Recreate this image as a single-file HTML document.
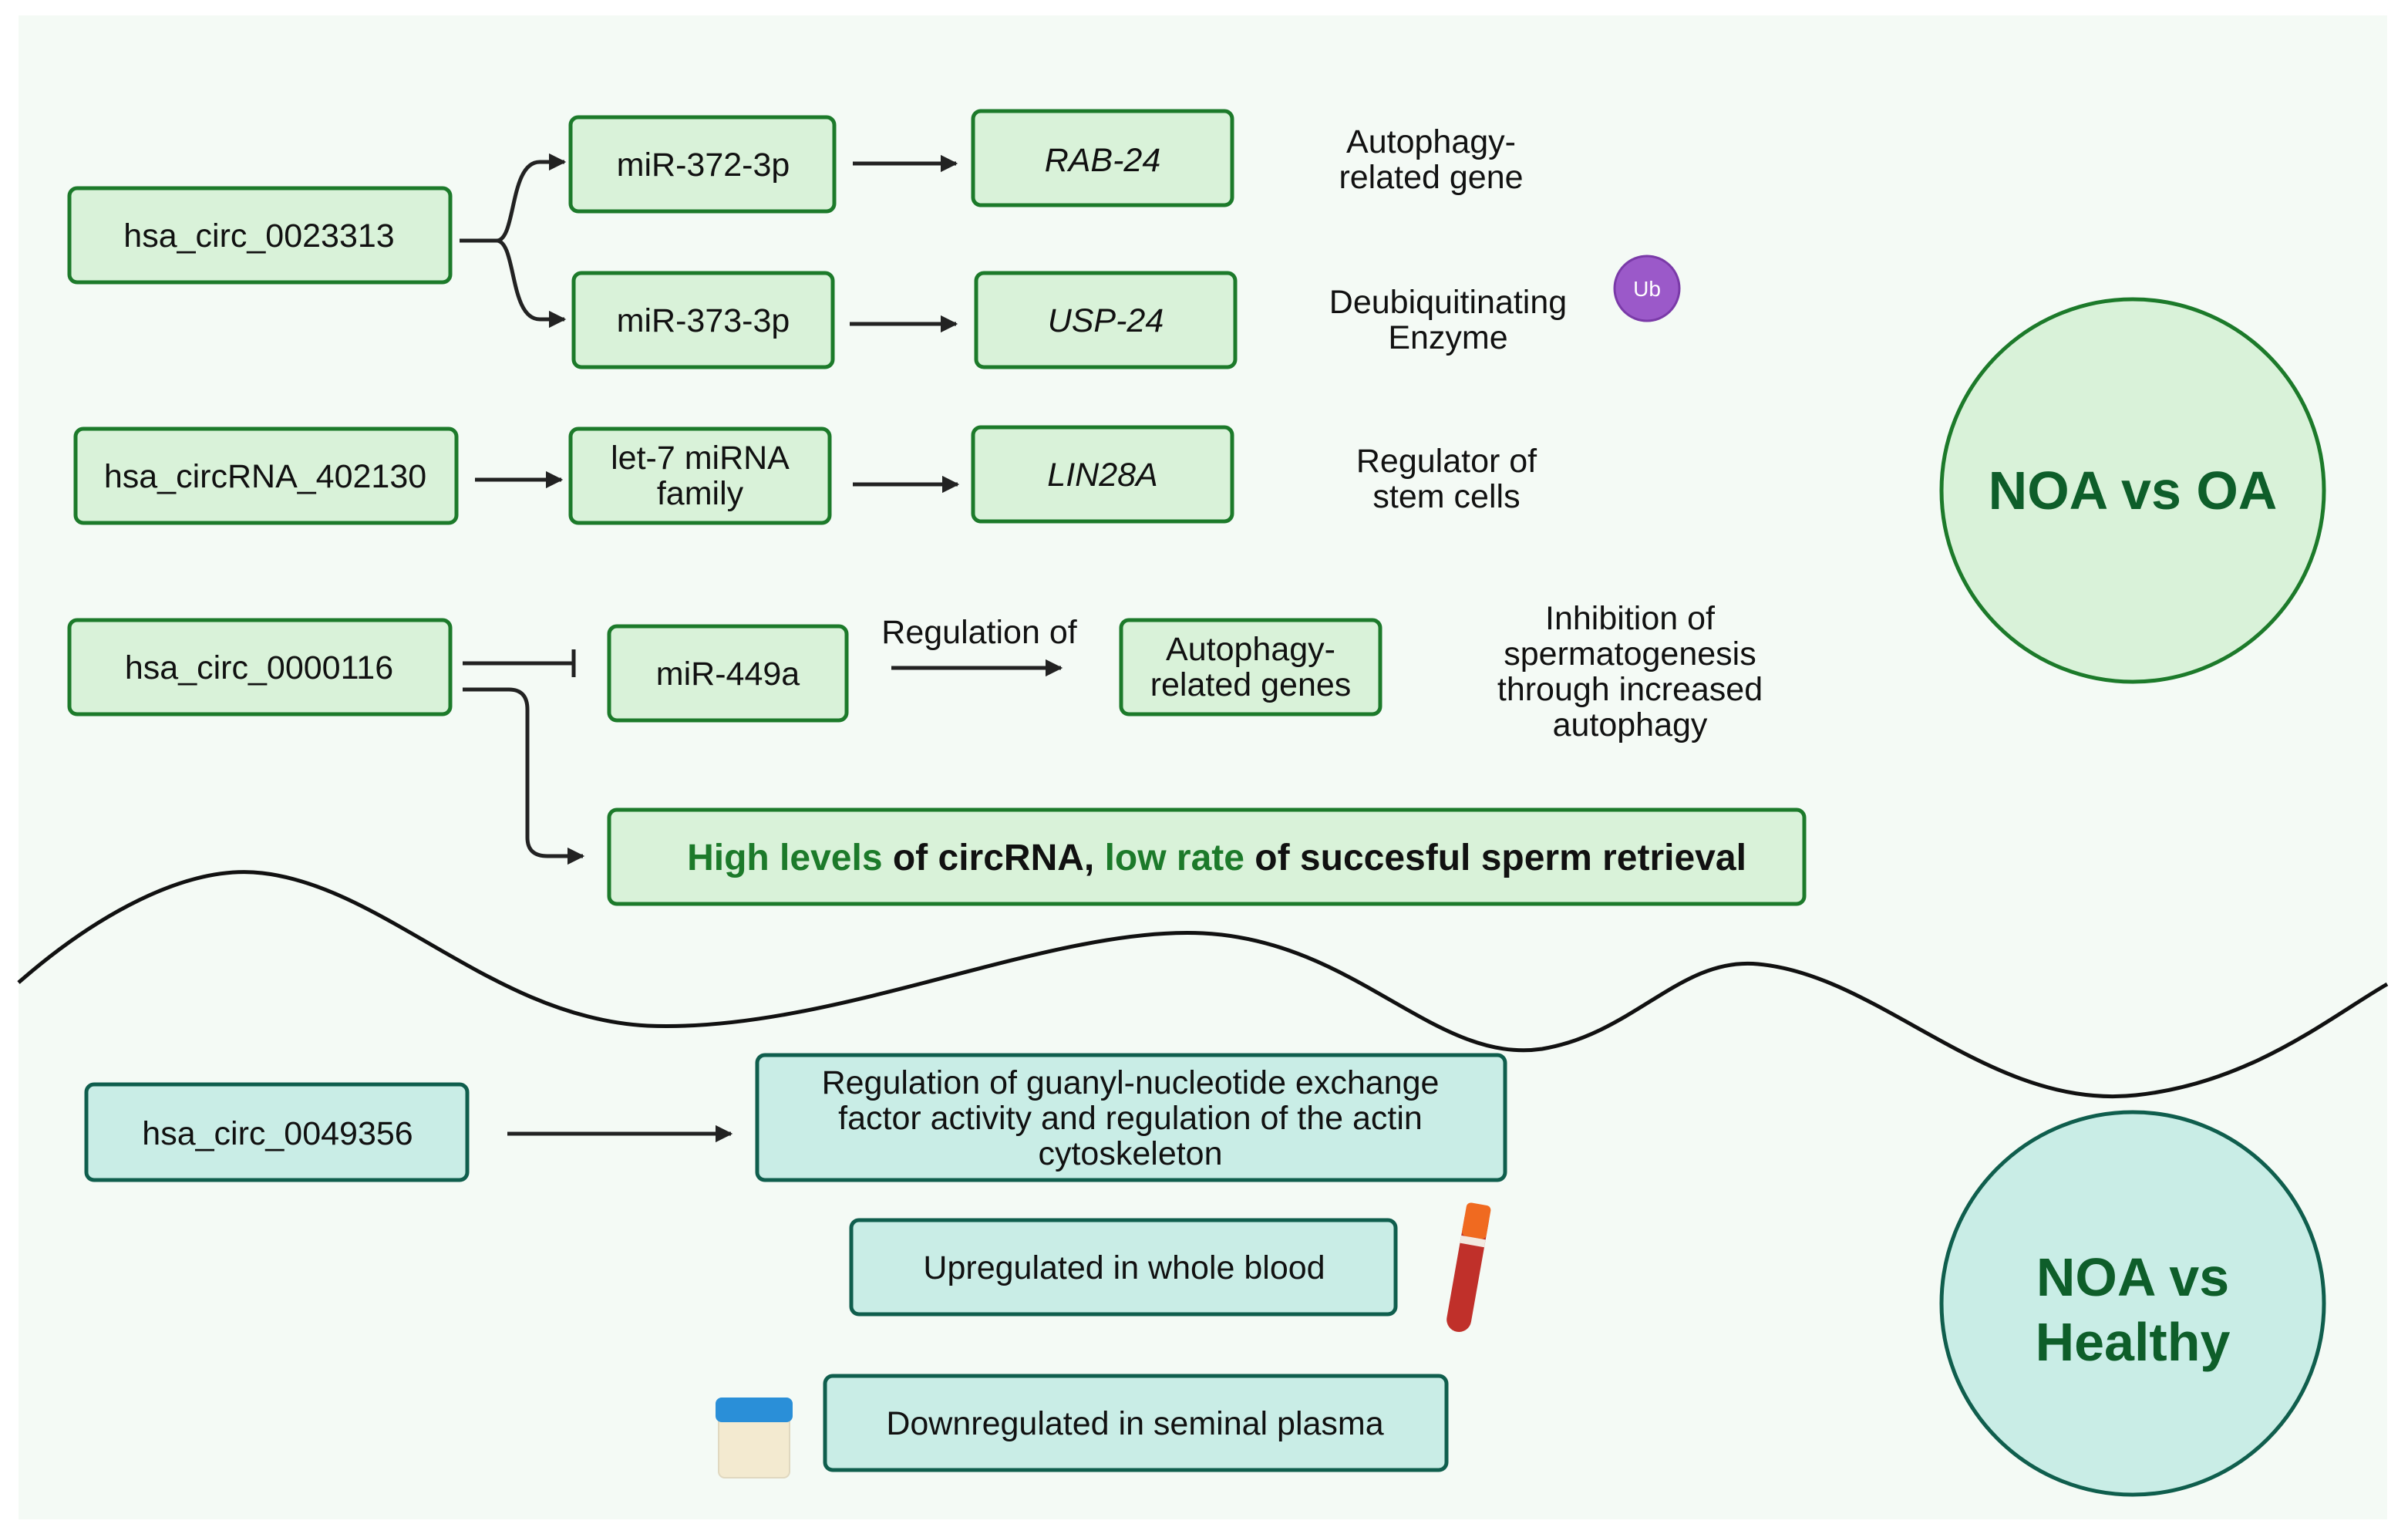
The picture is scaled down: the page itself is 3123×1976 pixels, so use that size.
<!DOCTYPE html>
<html><head><style>html,body{margin:0;padding:0;background:#fff}svg{display:block}</style></head>
<body>
<svg width="3123" height="1976" viewBox="0 0 1561.5 988" xmlns="http://www.w3.org/2000/svg" font-family="Liberation Sans, sans-serif">
<defs>
<marker id="a" viewBox="0 0 10 10" refX="9" refY="5" markerWidth="4.5" markerHeight="4.5" orient="auto"><path d="M0,0 L10,5 L0,10 z" fill="#222"/></marker>
</defs>
<rect x="12" y="10" width="1536" height="975" fill="#f4faf5"/>
<g fill="#d9f2d9" stroke="#1c7a2a" stroke-width="2.5">
<rect x="45" y="122" width="247" height="61" rx="5"/>
<rect x="370" y="76" width="171" height="61" rx="5"/>
<rect x="631" y="72" width="168" height="61" rx="5"/>
<rect x="372" y="177" width="168" height="61" rx="5"/>
<rect x="633" y="177" width="168" height="61" rx="5"/>
<rect x="49" y="278" width="247" height="61" rx="5"/>
<rect x="370" y="278" width="168" height="61" rx="5"/>
<rect x="631" y="277" width="168" height="61" rx="5"/>
<rect x="45" y="402" width="247" height="61" rx="5"/>
<rect x="395" y="406" width="154" height="61" rx="5"/>
<rect x="727" y="402" width="168" height="61" rx="5"/>
<rect x="395" y="525" width="775" height="61" rx="5"/>
<circle cx="1383" cy="318" r="124"/>
</g>
<g fill="#c9ede6" stroke="#0f5e4d" stroke-width="2.5">
<rect x="56" y="703" width="247" height="62" rx="5"/>
<rect x="491" y="684" width="485" height="81" rx="5"/>
<rect x="552" y="791" width="353" height="61" rx="5"/>
<rect x="535" y="892" width="403" height="61" rx="5"/>
<circle cx="1383" cy="845" r="124"/>
</g>
<path d="M12,637 C60,595 120,560 170,566 C250,575 320,660 420,665 C540,670 680,600 780,605 C880,610 930,690 1000,680 C1060,670 1090,620 1140,625 C1220,632 1290,720 1385,710 C1460,702 1510,660 1548,638" fill="none" stroke="#111" stroke-width="2.5"/>
<g stroke="#222" stroke-width="2.5" fill="none" marker-end="url(#a)">
<path d="M298,156 L322,156 C335,156 330,105 350,105 L366,105"/>
<path d="M322,156 C335,156 330,207 350,207 L366,207"/>
<path d="M553,106 L620,106"/>
<path d="M551,210 L620,210"/>
<path d="M308,311 L364,311"/>
<path d="M553,314 L621,314"/>
<path d="M578,433 L688,433"/>
<path d="M329,735 L474,735"/>
<path d="M300,447 L330,447 Q342,447 342,460 L342,543 Q342,555 355,555 L378,555"/>
</g>
<path d="M300,430 L372,430 M372,421 L372,439" stroke="#222" stroke-width="2.5"/>
<circle cx="1068" cy="187" r="21" fill="#9b59c9" stroke="#7a3aa8" stroke-width="1.5"/>
<text x="1068" y="192" font-size="14" fill="#fff" text-anchor="middle">Ub</text>
<g font-size="21.5" fill="#111" text-anchor="middle">
<text x="168" y="160">hsa_circ_0023313</text>
<text x="456" y="114">miR-372-3p</text>
<text x="715" y="111" font-style="italic">RAB-24</text>
<text x="456" y="215">miR-373-3p</text>
<text x="717" y="215" font-style="italic">USP-24</text>
<text x="172" y="316">hsa_circRNA_402130</text>
<text x="454" y="304">let-7 miRNA</text>
<text x="454" y="327">family</text>
<text x="715" y="315" font-style="italic">LIN28A</text>
<text x="168" y="440">hsa_circ_0000116</text>
<text x="472" y="444">miR-449a</text>
<text x="811" y="428">Autophagy-</text>
<text x="811" y="451">related genes</text>
<text x="635" y="417">Regulation of</text>
<text x="928" y="99">Autophagy-</text>
<text x="928" y="122">related gene</text>
<text x="939" y="203">Deubiquitinating</text>
<text x="939" y="226">Enzyme</text>
<text x="938" y="306">Regulator of</text>
<text x="938" y="329">stem cells</text>
<text x="1057" y="408">Inhibition of</text>
<text x="1057" y="431">spermatogenesis</text>
<text x="1057" y="454">through increased</text>
<text x="1057" y="477">autophagy</text>
<text x="789" y="564" font-weight="bold" font-size="24"><tspan fill="#1c7a2a">High levels</tspan> of circRNA, <tspan fill="#1c7a2a">low rate</tspan> of succesful sperm retrieval</text>
<text x="180" y="742">hsa_circ_0049356</text>
<text x="733" y="709">Regulation of guanyl-nucleotide exchange</text>
<text x="733" y="732">factor activity and regulation of the actin</text>
<text x="733" y="755">cytoskeleton</text>
<text x="729" y="829">Upregulated in whole blood</text>
<text x="736" y="930">Downregulated in seminal plasma</text>
</g>
<g font-size="35" font-weight="bold" fill="#0e5e2a" text-anchor="middle">
<text x="1383" y="330">NOA vs OA</text>
<text x="1383" y="840">NOA vs</text>
<text x="1383" y="882">Healthy</text>
</g>
<g transform="rotate(10 952 822)">
<rect x="944" y="782" width="16" height="82" rx="8" fill="#c0302a"/>
<rect x="944" y="780" width="16" height="22" rx="3" fill="#f06a20"/>
<rect x="944" y="802" width="16" height="5" fill="#f3e9e0"/>
</g>
<rect x="466" y="912" width="46" height="46" rx="4" fill="#f3ead0" stroke="#e0d8c0"/>
<rect x="464" y="906" width="50" height="16" rx="4" fill="#2a8fd8"/>
</svg>
</body></html>
